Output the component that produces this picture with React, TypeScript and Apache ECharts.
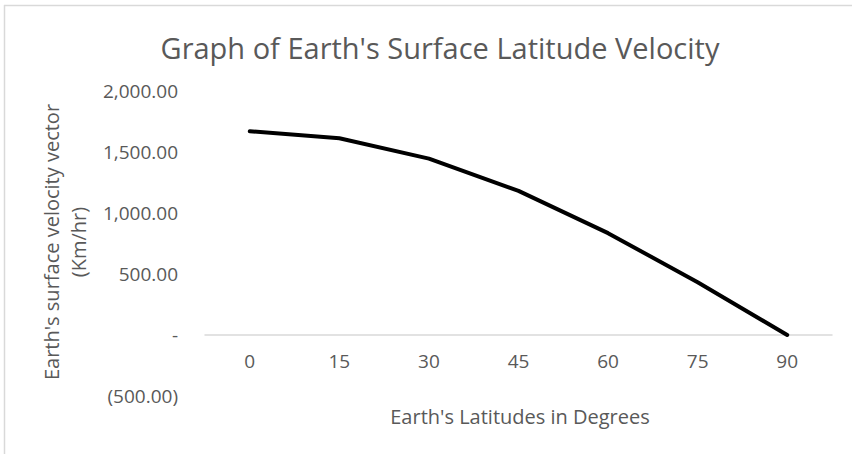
import React, { useEffect, useRef } from "react";
import * as echarts from "echarts";

const categories = ["0", "15", "30", "45", "60", "75", "90"];
const velocities = [1670, 1613, 1446, 1181, 835, 432, 0];
const yTicks = { min: -500, max: 2000, step: 500 };

const TEXT = "#595959";
const FONT = "Open Sans";
const H = 454;
const GRID_TOP = 91;
const GRID_BOTTOM = 58;

function fmt(v: number): string {
  if (v === 0) return "-";
  const s = Math.abs(v).toLocaleString("en-US", { minimumFractionDigits: 2, maximumFractionDigits: 2 });
  return v < 0 ? `(${s})` : s;
}

export default function App() {
  const ref = useRef<HTMLDivElement>(null);
  useEffect(() => {
    document.body.style.margin = "0";
    const chart = echarts.init(ref.current!, null, { renderer: "svg" });
    const gridH = H - GRID_TOP - GRID_BOTTOM;
    const zeroOffset = -Math.round((gridH * (0 - yTicks.min)) / (yTicks.max - yTicks.min));
    chart.setOption({
      animation: false,
      backgroundColor: "#ffffff",
      title: {
        text: "Graph of Earth's Surface Latitude Velocity",
        left: 435,
        top: 28,
        textAlign: "center",
        textStyle: { fontFamily: FONT, fontSize: 29, fontWeight: "normal", color: TEXT },
      },
      grid: { left: 205, right: 20, top: GRID_TOP, bottom: GRID_BOTTOM, containLabel: false, outerBoundsMode: "none" },
      xAxis: {
        type: "category",
        data: categories,
        boundaryGap: true,
        offset: zeroOffset,
        axisLine: { onZero: false, lineStyle: { color: "#d9d9d9", width: 1.5 } },
        axisTick: { show: false },
        axisLabel: { margin: 16, fontFamily: FONT, fontSize: 19, color: TEXT },
        splitLine: { show: false },
      },
      yAxis: {
        type: "value",
        min: yTicks.min,
        max: yTicks.max,
        interval: yTicks.step,
        axisLine: { show: false },
        axisTick: { show: false },
        splitLine: { show: false },
        axisLabel: { margin: 27, fontFamily: FONT, fontSize: 19, color: TEXT, formatter: (v: number) => fmt(v) },
      },
      graphic: [
        {
          type: "line",
          shape: { x1: 4.5, y1: 5, x2: 4.5, y2: 454 },
          style: { stroke: "#d9d9d9", lineWidth: 1.5 },
        },
        {
          type: "line",
          shape: { x1: 4, y1: 5.5, x2: 852, y2: 5.5 },
          style: { stroke: "#d9d9d9", lineWidth: 1.5 },
        },
        {
          type: "text",
          x: 65,
          y: 242,
          rotation: Math.PI / 2,
          style: {
            text: "Earth's surface velocity vector\n(Km/hr)",
            fontFamily: FONT,
            fontSize: 20,
            lineHeight: 27,
            fill: TEXT,
            textAlign: "center",
            textVerticalAlign: "middle",
          },
        },
        {
          type: "text",
          x: 520,
          y: 416,
          style: {
            text: "Earth's Latitudes in Degrees",
            fontFamily: FONT,
            fontSize: 20,
            fill: TEXT,
            textAlign: "center",
            textVerticalAlign: "middle",
          },
        },
      ],
      series: [
        {
          type: "line",
          data: velocities,
          symbol: "none",
          lineStyle: { color: "#000000", width: 4, cap: "round", join: "round" },
        },
      ],
    });
    return () => chart.dispose();
  }, []);
  return <div ref={ref} style={{ width: 852, height: 454 }} />;
}
